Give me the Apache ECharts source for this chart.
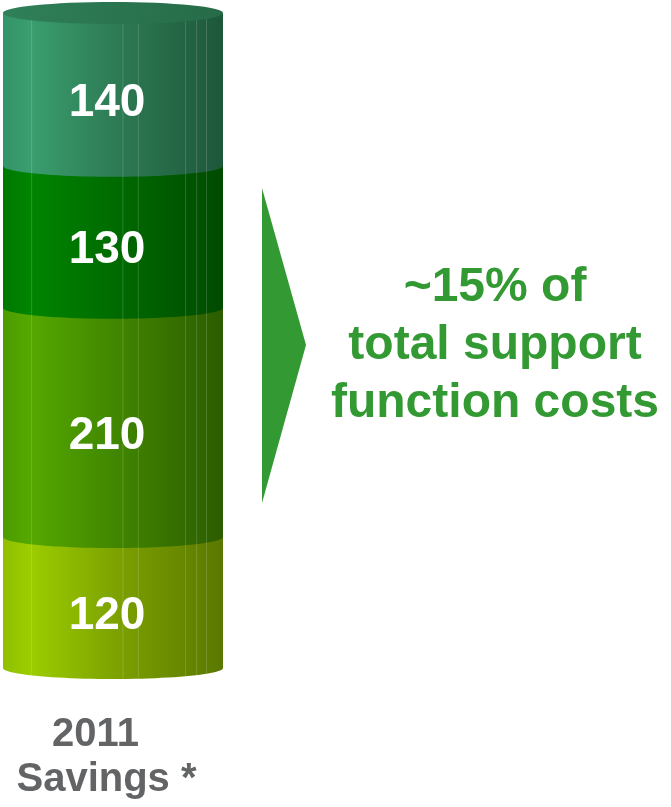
<!DOCTYPE html>
<html>
<head>
<meta charset="utf-8">
<title>2011 Savings</title>
<script src="https://cdn.jsdelivr.net/npm/echarts@6/dist/echarts.min.js"></script>
<style>
  html, body { margin: 0; padding: 0; background: #ffffff; }
  #chart { width: 671px; height: 807px; }
</style>
</head>
<body>
<div id="chart"></div>
<script>
// Savings broken into stacked segments, bottom to top
const categories = ['2011\nSavings *'];
const savings = [120, 210, 130, 140];
const calloutLines = ['~15% of', 'total support', 'function costs'];

// Horizontal shading for each cylinder segment (bottom to top)
const segmentShades = [
  ['#8fbf00', '#9ccd00', '#7a9e00', '#5a7800'],
  ['#4c9c00', '#55a800', '#3f8300', '#2c5c00'],
  ['#007800', '#008500', '#006800', '#004a00'],
  ['#34936a', '#3a9e6e', '#2c7852', '#1e573a']
];
const FONT = "'Liberation Sans', Arial, sans-serif";

// Build stacked ranges [category, start, end, value]
const stackData = [];
let running = 0;
savings.forEach(v => {
  stackData.push([0, running, running + v, v]);
  running += v;
});

const facetPositions = [0.13, 0.545, 0.615, 0.83, 0.88, 0.925];

function renderSegment(params, api) {
  const cat = api.value(0);
  const start = api.value(1);
  const end = api.value(2);
  const value = api.value(3);
  const idx = params.dataIndex;
  const top = api.coord([cat, end]);
  const bot = api.coord([cat, start]);
  const half = api.size([1, 0])[0] / 2;
  const cx = top[0];
  const xl = cx - half, xr = cx + half;
  const yTop = top[1], yBot = bot[1];
  const ry = 11;

  // side wall with a rounded front edge at the bottom
  const pts = [[xl, yTop], [xr, yTop], [xr, yBot]];
  const steps = 48;
  for (let i = 0; i <= steps; i++) {
    const t = (i / steps) * Math.PI;
    pts.push([cx + half * Math.cos(t), yBot + ry * Math.sin(t)]);
  }
  const shades = segmentShades[idx];
  const children = [{
    type: 'polygon',
    shape: { points: pts },
    style: {
      fill: new echarts.graphic.LinearGradient(0, 0, 1, 0, [
        { offset: 0, color: shades[0] },
        { offset: 0.12, color: shades[1] },
        { offset: 0.55, color: shades[2] },
        { offset: 1, color: shades[3] }
      ])
    }
  }];

  // faint vertical facet lines
  facetPositions.forEach(f => {
    const x = xl + f * 2 * half;
    const dx = (x - cx) / half;
    const yEnd = yBot + ry * Math.sqrt(Math.max(0, 1 - dx * dx));
    children.push({
      type: 'line',
      shape: { x1: x, y1: yTop, x2: x, y2: yEnd },
      style: { stroke: 'rgba(255,255,255,0.16)', lineWidth: 1 }
    });
  });

  // top cap on the last segment
  if (idx === stackData.length - 1) {
    children.push({
      type: 'ellipse',
      shape: { cx: cx, cy: yTop, rx: half, ry: ry },
      style: {
        fill: new echarts.graphic.LinearGradient(0, 0, 1, 0, [
          { offset: 0, color: '#2f8058' },
          { offset: 1, color: '#266b48' }
        ])
      }
    });
  }

  children.push({
    type: 'text',
    x: cx - 6,
    y: (yTop + yBot) / 2 + 14,
    style: {
      text: String(value),
      fill: '#ffffff',
      font: 'bold 46px ' + FONT,
      textAlign: 'center',
      textVerticalAlign: 'middle'
    }
  });

  return { type: 'group', children: children };
}

const chart = echarts.init(document.getElementById('chart'));
chart.setOption({
  animation: false,
  backgroundColor: '#ffffff',
  grid: { left: 3, right: 448, top: 13, bottom: 139 },
  xAxis: {
    type: 'category',
    data: categories,
    axisLine: { show: false },
    axisTick: { show: false },
    axisLabel: {
      margin: 44,
      formatter: function (v) {
        const parts = v.split('\n');
        return '{a|' + parts[0] + '}\n{b|' + parts[1] + '}';
      },
      rich: {
        a: {
          color: '#636466', fontFamily: FONT, fontWeight: 'bold',
          fontSize: 40, lineHeight: 45, padding: [0, 35, 0, 0]
        },
        b: {
          color: '#636466', fontFamily: FONT, fontWeight: 'bold',
          fontSize: 40, lineHeight: 45, padding: [0, 13, 0, 0]
        }
      }
    }
  },
  yAxis: { type: 'value', min: 0, max: 600, show: false },
  series: [{
    type: 'custom',
    renderItem: renderSegment,
    data: stackData,
    clip: false,
    encode: { x: 0, y: [1, 2] }
  }],
  graphic: [
    {
      type: 'polygon',
      shape: { points: [[262, 188], [306, 345], [262, 503]] },
      style: { fill: '#339933' }
    },
    {
      type: 'text',
      x: 495,
      y: 346,
      style: {
        text: calloutLines.join('\n'),
        fill: '#339933',
        font: 'bold 48px ' + FONT,
        lineHeight: 58,
        textAlign: 'center',
        textVerticalAlign: 'middle'
      }
    }
  ]
});
</script>
</body>
</html>
